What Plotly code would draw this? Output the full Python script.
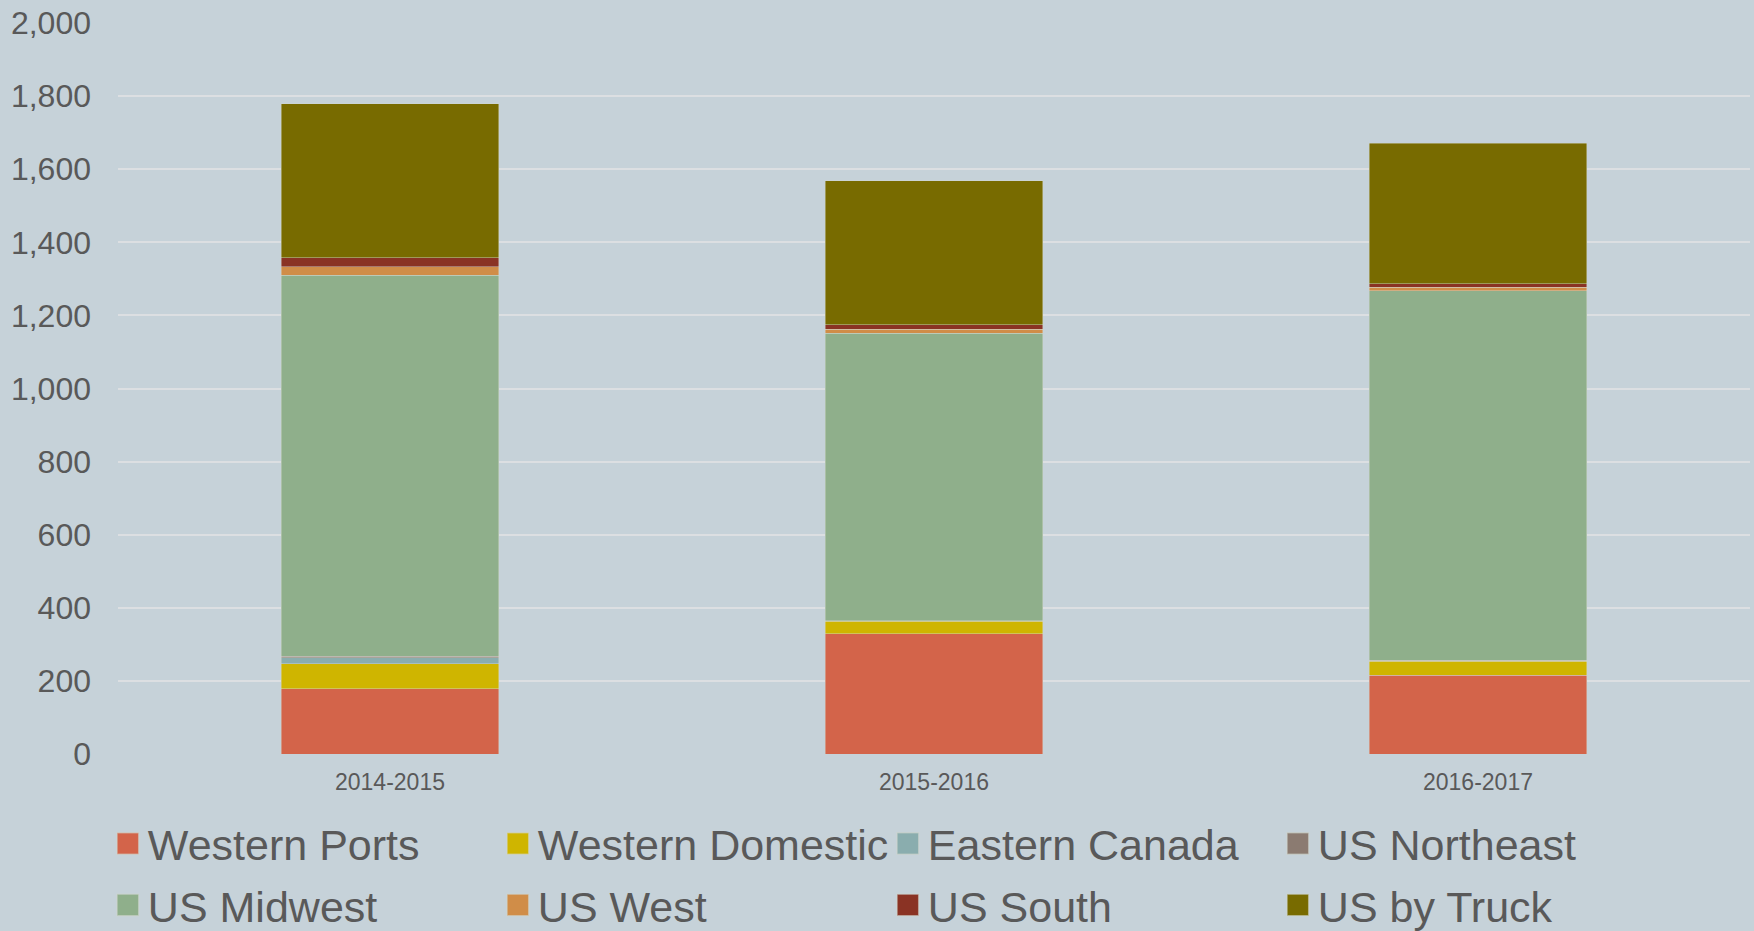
import plotly.graph_objects as go

# Crop years on the category axis
years = ["2014-2015", "2015-2016", "2016-2017"]

# Volumes by destination (stacked bottom to top)
western_ports = [179, 329, 216]
western_domestic = [68, 34, 38]
eastern_canada = [16, 1, 1]
us_northeast = [5, 1, 1]
us_midwest = [1042, 786, 1011]
us_west = [23, 11, 10]
us_south = [25, 13, 10]
us_by_truck = [421, 393, 384]

# name, values, colour, legend row
series = [
    ("Western Ports", western_ports, "#D3644A", "legend"),
    ("Western Domestic", western_domestic, "#CFB500", "legend"),
    ("Eastern Canada", eastern_canada, "#8AADAE", "legend"),
    ("US Northeast", us_northeast, "#8B7B71", "legend"),
    ("US Midwest", us_midwest, "#8FAF8B", "legend2"),
    ("US West", us_west, "#D08D48", "legend2"),
    ("US South", us_south, "#8A3324", "legend2"),
    ("US by Truck", us_by_truck, "#786B00", "legend2"),
]

text_color = "#595959"
bg = "#C6D2D9"
font_family = "Liberation Sans, Arial, sans-serif"

fig = go.Figure()
for name, vals, color, leg in series:
    fig.add_trace(go.Bar(
        x=years, y=vals, name=name, legend=leg,
        marker=dict(color=color, line=dict(color="rgba(210,215,205,0.55)", width=0.8)),
    ))

legend_common = dict(
    orientation="h",
    xref="container", x=0.0615, xanchor="left",
    yref="container", yanchor="top",
    font=dict(size=43, color=text_color, family=font_family),
    entrywidth=345, entrywidthmode="pixels",
    bgcolor="rgba(0,0,0,0)",
    traceorder="normal",
)

fig.update_layout(
    width=1754, height=931,
    barmode="stack", bargap=0.6,
    paper_bgcolor=bg, plot_bgcolor=bg,
    margin=dict(l=118, r=4, t=23, b=177, autoexpand=False),
    font=dict(family=font_family, color=text_color),
    showlegend=True,
    legend=dict(legend_common, y=0.131),
    legend2=dict(legend_common, y=0.065),
)

fig.update_yaxes(
    range=[0, 2000], dtick=200, tickformat=",",
    showgrid=True, gridcolor="#DCDFE2", gridwidth=1.5,
    zeroline=False, showline=False,
    tickfont=dict(size=32, color=text_color),
    ticklabelstandoff=26,
)
fig.update_xaxes(
    showgrid=False, showline=False, zeroline=False,
    tickfont=dict(size=23, color=text_color),
    ticklabelstandoff=12,
)

# Enlarge the square swatches in the legends
swatch_js = """
document.querySelectorAll('.legendpoints path').forEach(function (p) {
    var t = p.getAttribute('transform') || '';
    p.setAttribute('transform', t + ' scale(1.8)');
});
"""

fig.write_html("out.html", post_script=swatch_js)
